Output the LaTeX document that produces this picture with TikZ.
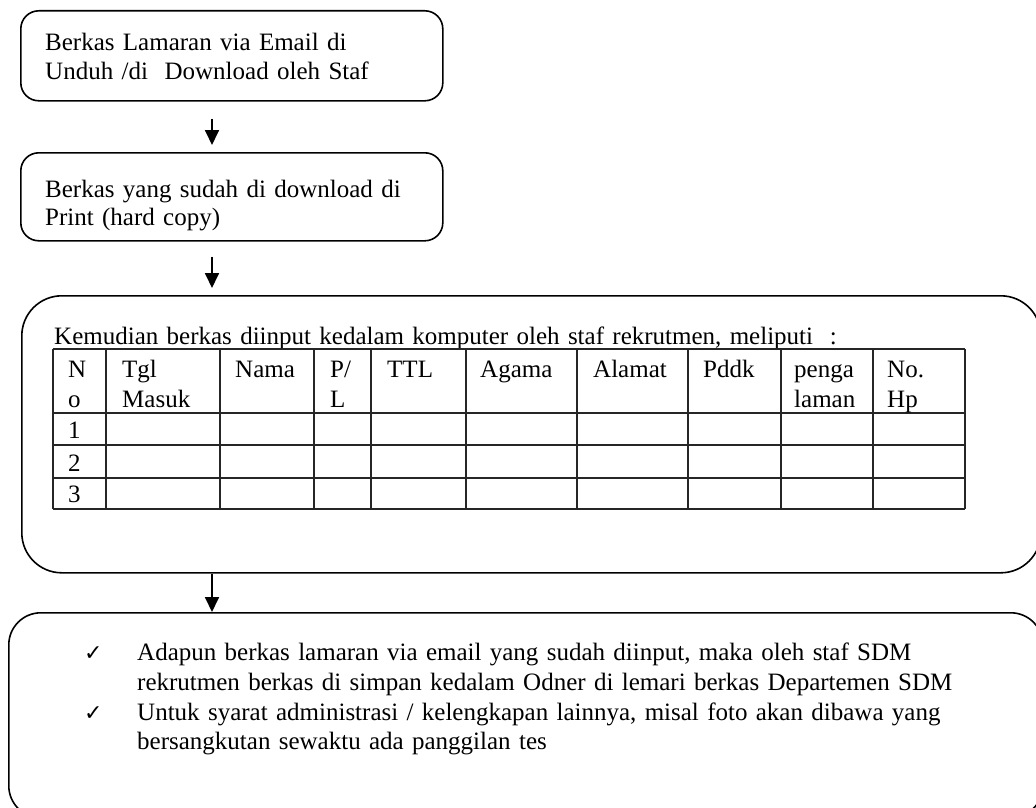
\documentclass[tikz,border=0pt]{standalone}
\usepackage{fontspec}
\setmainfont{Liberation Serif}
\newfontfamily\symfont{DejaVu Sans}
\usetikzlibrary{arrows.meta}

\tikzset{
  box/.style={draw, line width=1.6pt, inner sep=0pt, anchor=north west},
  flow/.style={line width=1.8pt, -{Triangle[width=14pt,length=15pt]}},
  txt/.style={anchor=base west, inner sep=0pt, align=left, text width=950pt,
              font=\fontsize{25}{28.5}\selectfont},
  cell/.style={anchor=base west, inner sep=0pt, align=left, text width=100pt,
               font=\fontsize{25}{30}\selectfont},
  grid/.style={line width=1.2pt, draw=black!85},
  tick/.style={anchor=base west, inner sep=0pt, font=\symfont\fontsize{22}{22}\selectfont}
}

\begin{document}
\begin{tikzpicture}[x=1pt, y=-1pt]
  \useasboundingbox (0,0) rectangle (1036,808);
  \clip (0,0) rectangle (1036,808);

  % process boxes
  \node[box, rounded corners=18pt, minimum width=422pt, minimum height=90pt] (b1) at (20,10) {};
  \node[box, rounded corners=18pt, minimum width=422pt, minimum height=88pt] (b2) at (20,152) {};
  \node[box, rounded corners=40pt, minimum width=1019pt, minimum height=277pt] (b3) at (21,295) {};
  \node[box, rounded corners=32pt, minimum width=1034pt, minimum height=205pt] (b4) at (8,612) {};

  % flow arrows, all on one vertical
  \coordinate (ax) at (212,0);
  \draw[flow, shorten <=17pt, shorten >=7pt] (b1.south -| ax) -- (b2.north -| ax);
  \draw[flow, shorten <=15pt, shorten >=7pt] (b2.south -| ax) -- (b3.north -| ax);
  \draw[flow] (b3.south -| ax) -- (b4.north -| ax);

  % box texts
  \node[txt] (t1) at (45,51) {Berkas Lamaran via Email di\\Unduh /di~ Download oleh Staf};
  \node[txt] (t2) at (45,197) {Berkas yang sudah di download di\\Print (hard copy)};
  \node[txt] (t3) at (54,344) {Kemudian berkas diinput kedalam komputer oleh staf rekrutmen, meliputi~ :};

  % data entry table
  \foreach \y in {349,413,445,478,509}
    \draw[grid] (53,\y) -- (965,\y);
  \foreach \x in {53,106,220,314,371,466,577,688,781,873,965}
    \draw[grid] (\x,349) -- (\x,509);

  \node[cell] (h1) at (68,377) {N\\o};
  \node[cell] (h2) at (122,377) {Tgl\\Masuk};
  \node[cell] (h3) at (235,377) {Nama};
  \node[cell] (h4) at (330,377) {P/\\L};
  \node[cell] (h5) at (387,377) {TTL};
  \node[cell] (h6) at (480,377) {Agama};
  \node[cell] (h7) at (593,377) {Alamat};
  \node[cell] (h8) at (703,377) {Pddk};
  \node[cell] (h9) at (794,377) {penga\\laman};
  \node[cell] (h10) at (887,377) {No.\\Hp};
  \node[cell] (r1) at (68,438) {1};
  \node[cell] (r2) at (68,471) {2};
  \node[cell] (r3) at (68,502) {3};

  % closing notes
  \node[tick] (c1) at (84,660) {✓};
  \node[tick] (c2) at (84,720) {✓};
  \node[txt, font=\fontsize{25}{30}\selectfont] (n1) at (137,660)
    {Adapun berkas lamaran via email yang sudah diinput, maka oleh staf SDM\\
     rekrutmen berkas di simpan kedalam Odner di lemari berkas Departemen SDM};
  \node[txt, font=\fontsize{25}{29.5}\selectfont] (n2) at (137,720)
    {Untuk syarat administrasi / kelengkapan lainnya, misal foto akan dibawa yang\\
     bersangkutan sewaktu ada panggilan tes};
\end{tikzpicture}
\end{document}
